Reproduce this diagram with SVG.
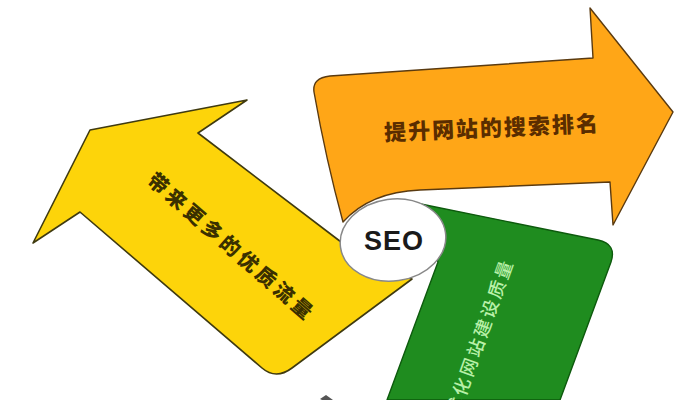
<svg xmlns="http://www.w3.org/2000/svg" width="693" height="400" viewBox="0 0 693 400">
<style>
.lbl{font-family:"Noto Sans CJK SC","Noto Sans",sans-serif;text-anchor:middle}
.seo{font-family:"Liberation Sans",Arial,sans-serif;font-weight:bold;text-anchor:middle}
</style>
<rect width="693" height="400" fill="#ffffff"/>
<g id="connectors"></g>
<g id="node-orange">
<path d="M330,76 L593,58 L590,8 L673,112 L613,225 L610,182 L420,190 Q370,192 343,222 Q326,160 314,92 Q312,78 330,76 Z" fill="#ffa617" stroke="#5a3a10" stroke-width="1.4" stroke-linejoin="round"/>
<text class="lbl" x="492" y="136" transform="rotate(-2.5 491 128)" font-size="22" font-weight="900" letter-spacing="2" fill="#5a2d00">提升网站的搜索排名</text>
</g>
<g id="node-yellow">
<path d="M90,130 L247,100 L198,133 L345,245 L380,270 L412,279 L292,368 Q276,380 262,368 L80,212 L33,243 Z" fill="#fdd40a" stroke="#3f3a10" stroke-width="1.6" stroke-linejoin="round"/>
<text class="lbl" x="232" y="253" transform="rotate(41 230 246)" font-size="20" font-weight="900" letter-spacing="3.8" fill="#3a3000">带来更多的优质流量</text>
</g>
<g id="node-green">
<path d="M416,203 L598,240 Q617,244 611,262 L560,400 L387,400 L438,262 Z" fill="#1f8c1f" stroke="#0d5a0d" stroke-width="1.4" stroke-linejoin="round"/>
<text class="lbl" x="481" y="344" transform="rotate(-70.3 480 338)" font-size="18" font-weight="500" letter-spacing="2.7" fill="#b8f0a8">优化网站建设质量</text>
</g>
<g id="node-seo">
<ellipse cx="393" cy="240" rx="53" ry="41" transform="rotate(-8 393 240)" fill="#ffffff" stroke="#888888" stroke-width="1.5"/>
<text class="seo" x="394" y="250" font-size="27" letter-spacing="1" fill="#1a1a1a">SEO</text>
</g>
<g id="fragment">
<polygon points="320,399 326,395 333,400 322,400" fill="#555555"/>
</g>
</svg>
